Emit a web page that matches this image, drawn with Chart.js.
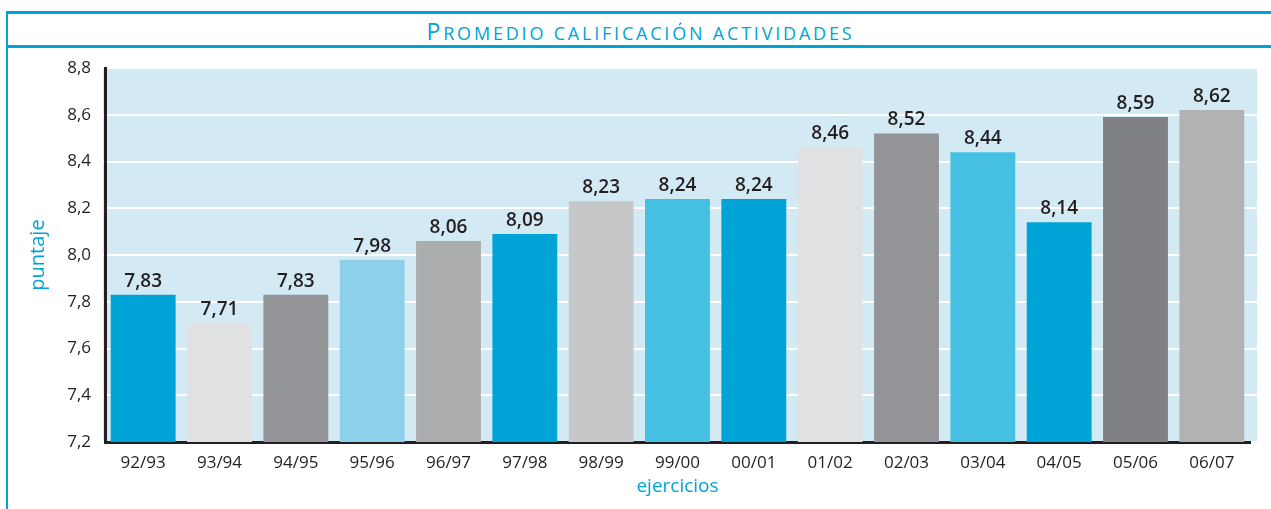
<!DOCTYPE html>
<html>
<head>
<meta charset="utf-8">
<script src="https://cdn.jsdelivr.net/npm/chart.js@4.4.0/dist/chart.umd.min.js"></script>
<style>
  body { margin: 0; background: #fff; font-family: "Open Sans", sans-serif; }
  #frame {
    position: absolute; left: 6px; top: 11px; width: 1265px; height: 498px;
    border-top: 3px solid #00a3d6; border-left: 2px solid #00a3d6;
  }
  #titulo {
    height: 31px; border-bottom: 3px solid #00a3d6; overflow: hidden;
    color: #00a3d6; text-align: center; font-weight: 500;
    font-size: 18px; letter-spacing: 2.8px; line-height: 35px;
  }
  #titulo .may { font-size: 23px; }
  #wrap { position: absolute; left: 10px; top: 48px; width: 1261px; height: 461px; }
</style>
</head>
<body>
<div id="frame"><div id="titulo"><span class="may">P</span>ROMEDIO CALIFICACIÓN ACTIVIDADES</div></div>
<div id="wrap"><canvas id="grafico"></canvas></div>
<script>
// datos
const ejercicios = ['92/93', '93/94', '94/95', '95/96', '96/97', '97/98', '98/99', '99/00',
                    '00/01', '01/02', '02/03', '03/04', '04/05', '05/06', '06/07'];
const puntajes = [7.83, 7.71, 7.83, 7.98, 8.06, 8.09, 8.23, 8.24, 8.24, 8.46, 8.52, 8.44, 8.14, 8.59, 8.62];
const colores = ['#00a3d6', '#e0e1e3', '#939598', '#8dd0ea', '#acadaf', '#00a3d6', '#c6c7c9', '#45c0e3',
                 '#00a3d6', '#e0e1e3', '#939598', '#45c0e3', '#00a3d6', '#808184', '#b1b2b4'];
const ticksY = [7.2, 7.4, 7.6, 7.8, 8.0, 8.2, 8.4, 8.6, 8.8];

const coma = v => v.toFixed(1).replace('.', ',');

// fondo celeste y lineas blancas (un poco mas ancho que el area)
const fondo = {
    id: 'fondo',
    beforeDraw(chart) {
        const { ctx, chartArea, scales } = chart;
        const x0 = chartArea.left - 2, x1 = chartArea.right + 7;
        ctx.save();
        ctx.fillStyle = '#d3eaf4';
        ctx.fillRect(x0, chartArea.top, x1 - x0, chartArea.bottom - chartArea.top);
        ctx.strokeStyle = '#ffffff';
        ctx.lineWidth = 2;
        ticksY.forEach(t => {
            const y = Math.round(scales.y.getPixelForValue(t));
            ctx.beginPath();
            ctx.moveTo(x0, y);
            ctx.lineTo(x1, y);
            ctx.stroke();
        });
        ctx.restore();
    }
};

// etiquetas de valor sobre cada barra
const etiquetas = {
    id: 'etiquetas',
    afterDatasetsDraw(chart) {
        const { ctx } = chart;
        const meta = chart.getDatasetMeta(0);
        ctx.save();
        ctx.font = '600 19px "Open Sans"';
        ctx.fillStyle = '#231f20';
        ctx.textAlign = 'center';
        ctx.textBaseline = 'bottom';
        meta.data.forEach((bar, i) => {
            ctx.fillText(puntajes[i].toFixed(2).replace('.', ','), bar.x, bar.y - 4);
        });
        ctx.restore();
    }
};

new Chart(document.getElementById('grafico'), {
    type: 'bar',
    data: {
        labels: ejercicios,
        datasets: [{
            data: puntajes,
            backgroundColor: colores,
            borderWidth: 0,
            barPercentage: 0.85,
            categoryPercentage: 1
        }]
    },
    options: {
        responsive: true,
        maintainAspectRatio: false,
        animation: false,
        layout: { padding: { top: 20, right: 21, left: 0, bottom: 0 } },
        plugins: { legend: { display: false }, tooltip: { enabled: false } },
        scales: {
            x: {
                grid: { display: false, drawTicks: false },
                border: { display: true, color: '#231f20', width: 3 },
                ticks: { color: '#231f20', padding: 11, font: { family: 'Open Sans', size: 17 } },
                title: {
                    display: true, text: 'ejercicios', color: '#00a3d6',
                    font: { family: 'Open Sans', size: 19 }, padding: { top: 0, bottom: 11 }
                },
                afterFit(scale) { scale.height = 67; }
            },
            y: {
                min: 7.2,
                max: 8.8,
                grid: { drawOnChartArea: false, drawTicks: true, tickLength: 10, tickColor: 'rgba(0,0,0,0)' },
                border: { display: true, color: '#231f20', width: 3 },
                ticks: {
                    stepSize: 0.2, color: '#231f20', padding: 4,
                    font: { family: 'Open Sans', size: 17 },
                    callback: v => coma(v)
                },
                title: {
                    display: true, text: 'puntaje', color: '#00a3d6',
                    font: { family: 'Open Sans', size: 20 }, padding: { top: 16, bottom: 0 }
                },
                afterFit(scale) { scale.width = 95; }
            }
        }
    },
    plugins: [fondo, etiquetas]
});
</script>
</body>
</html>
